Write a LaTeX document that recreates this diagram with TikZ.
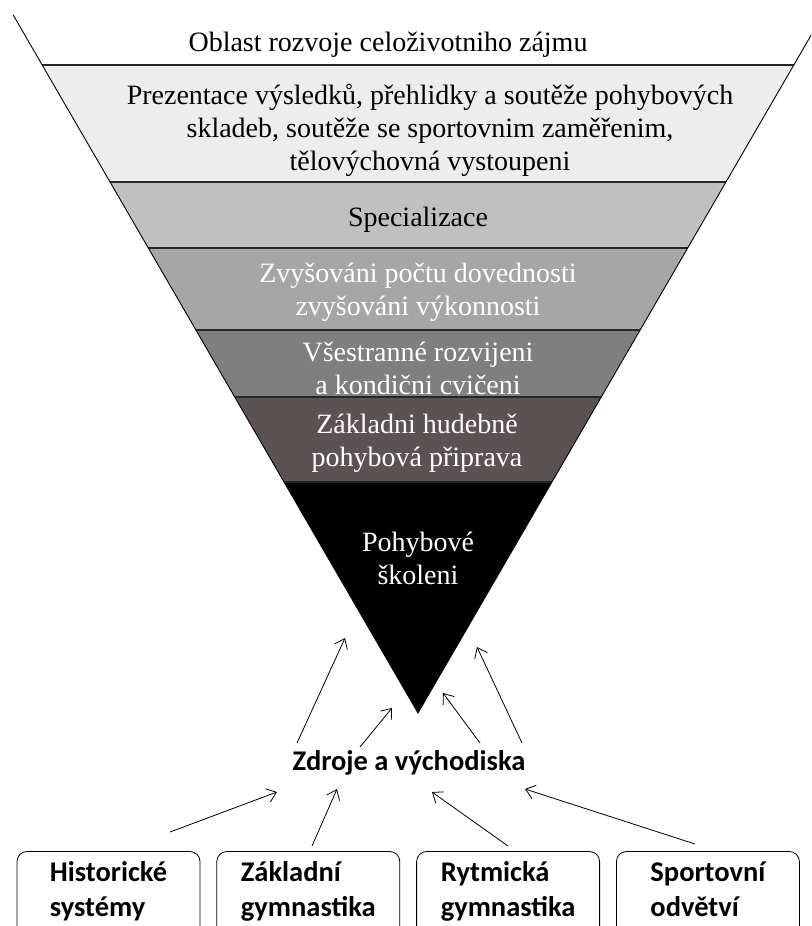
\documentclass[tikz,border=0pt]{standalone}
\usepackage{fontspec}
\setmainfont{Liberation Serif}
\newfontfamily\calibri{Carlito}
\usetikzlibrary{positioning,arrows.meta}

\definecolor{bandA}{RGB}{237,237,237}
\definecolor{bandB}{RGB}{192,192,192}
\definecolor{bandC}{RGB}{166,166,166}
\definecolor{bandD}{RGB}{127,127,127}
\definecolor{bandE}{RGB}{92,82,84}
\definecolor{bandF}{RGB}{0,0,0}

\tikzset{
    stagetext/.style={font=\fontsize{28}{33}\selectfont, align=center, inner sep=0pt},
    stagedark/.style={stagetext, text=black},
    stagelight/.style={stagetext, text=white},
    srcbox/.style={draw, rounded corners=10pt, line width=0.8pt, minimum width=183pt,
        minimum height=85pt, align=left, inner sep=0pt,
        font=\calibri\bfseries\fontsize{28.5}{35}\selectfont,
        execute at begin node=\strut, execute at end node=\strut},
    feed/.style={-{Straight Barb[length=9pt,width=14pt]}, line width=0.8pt},
}

\begin{document}
\begin{tikzpicture}[x=1pt, y=-1pt]

    \useasboundingbox (0,0) rectangle (811,926);
    \clip (0,0) rectangle (811,926);

    % the funnel, cut into bands
    \begin{scope}
        \clip (13.2,15) -- (822.8,15) -- (418,713) -- cycle;
        \foreach \ytop/\ybot/\col in {65/182/bandA, 182/248/bandB, 248/330/bandC,
                330/397/bandD, 397/482/bandE, 482/713/bandF} {
            \fill[\col] (0,\ytop) rectangle (811,\ybot);
            \draw[line width=1.2pt, black!85] (0,\ytop) -- (811,\ytop);
        }
    \end{scope}
    \draw[line width=0.9pt] (13.2,15) -- (418,713) -- (822.8,15);

    \node[stagedark] (oblast) at (388,45) {Oblast rozvoje celoživotniho zájmu};
    \node[stagedark] (prezentace) at (430,130) {Prezentace výsledků, přehlidky a soutěže pohybových\\
        skladeb, soutěže se sportovnim zaměřenim,\\ tělovýchovná vystoupeni};
    \node[stagedark] (specializace) at (418,220) {Specializace};
    \node[stagelight] (zvysovani) at (418,292) {Zvyšováni počtu dovednosti\\ zvyšováni výkonnosti};
    \node[stagelight] (vsestranne) at (418,368) {Všestranné rozvijeni\\ a kondični cvičeni};
    \node[stagelight] (hudebne) at (417,443) {Základni hudebně\\ pohybová připrava};
    \node[stagelight] (skoleni) at (418,558) {Pohybové\\ školeni};

    \node[font=\calibri\bfseries\fontsize{28.5}{35}\selectfont, inner sep=0pt] (zdroje) at (409,763) {Zdroje a východiska};

    \node[srcbox] (historicke) at (108.5,894) {Historické\\ systémy};
    \node[srcbox, right=16pt of historicke] (zakladni) {Základní\\ gymnastika};
    \node[srcbox, right=16pt of zakladni] (rytmicka) {Rytmická\\ gymnastika};
    \node[srcbox, right=16pt of rytmicka] (sportovni) {Sportovní\\ odvětví};

    % arrow ends
    \coordinate (t1) at (345,638);
    \coordinate (t2) at (392,708);
    \coordinate (t3) at (443,693);
    \coordinate (t4) at (477,647);
    \coordinate (z1) at (297,743);
    \coordinate (z2) at (360,747);
    \coordinate (z3) at (480,743);
    \coordinate (z4) at (522,743);
    \coordinate (u1) at (277,792);
    \coordinate (u2) at (337,789);
    \coordinate (u3) at (432,792);
    \coordinate (u4) at (525,789);
    \coordinate (b1) at (170,832);
    \coordinate (b2) at (312,846);
    \coordinate (b3) at (508,846);
    \coordinate (b4) at (695,844);

    \begin{scope}[feed]
        \draw (z1) -- (t1);
        \draw (z2) -- (t2);
        \draw (z3) -- (t3);
        \draw (z4) -- (t4);
        \draw (b1) -- (u1);
        \draw (b2) -- (u2);
        \draw (b3) -- (u3);
        \draw (b4) -- (u4);
    \end{scope}

\end{tikzpicture}
\end{document}
